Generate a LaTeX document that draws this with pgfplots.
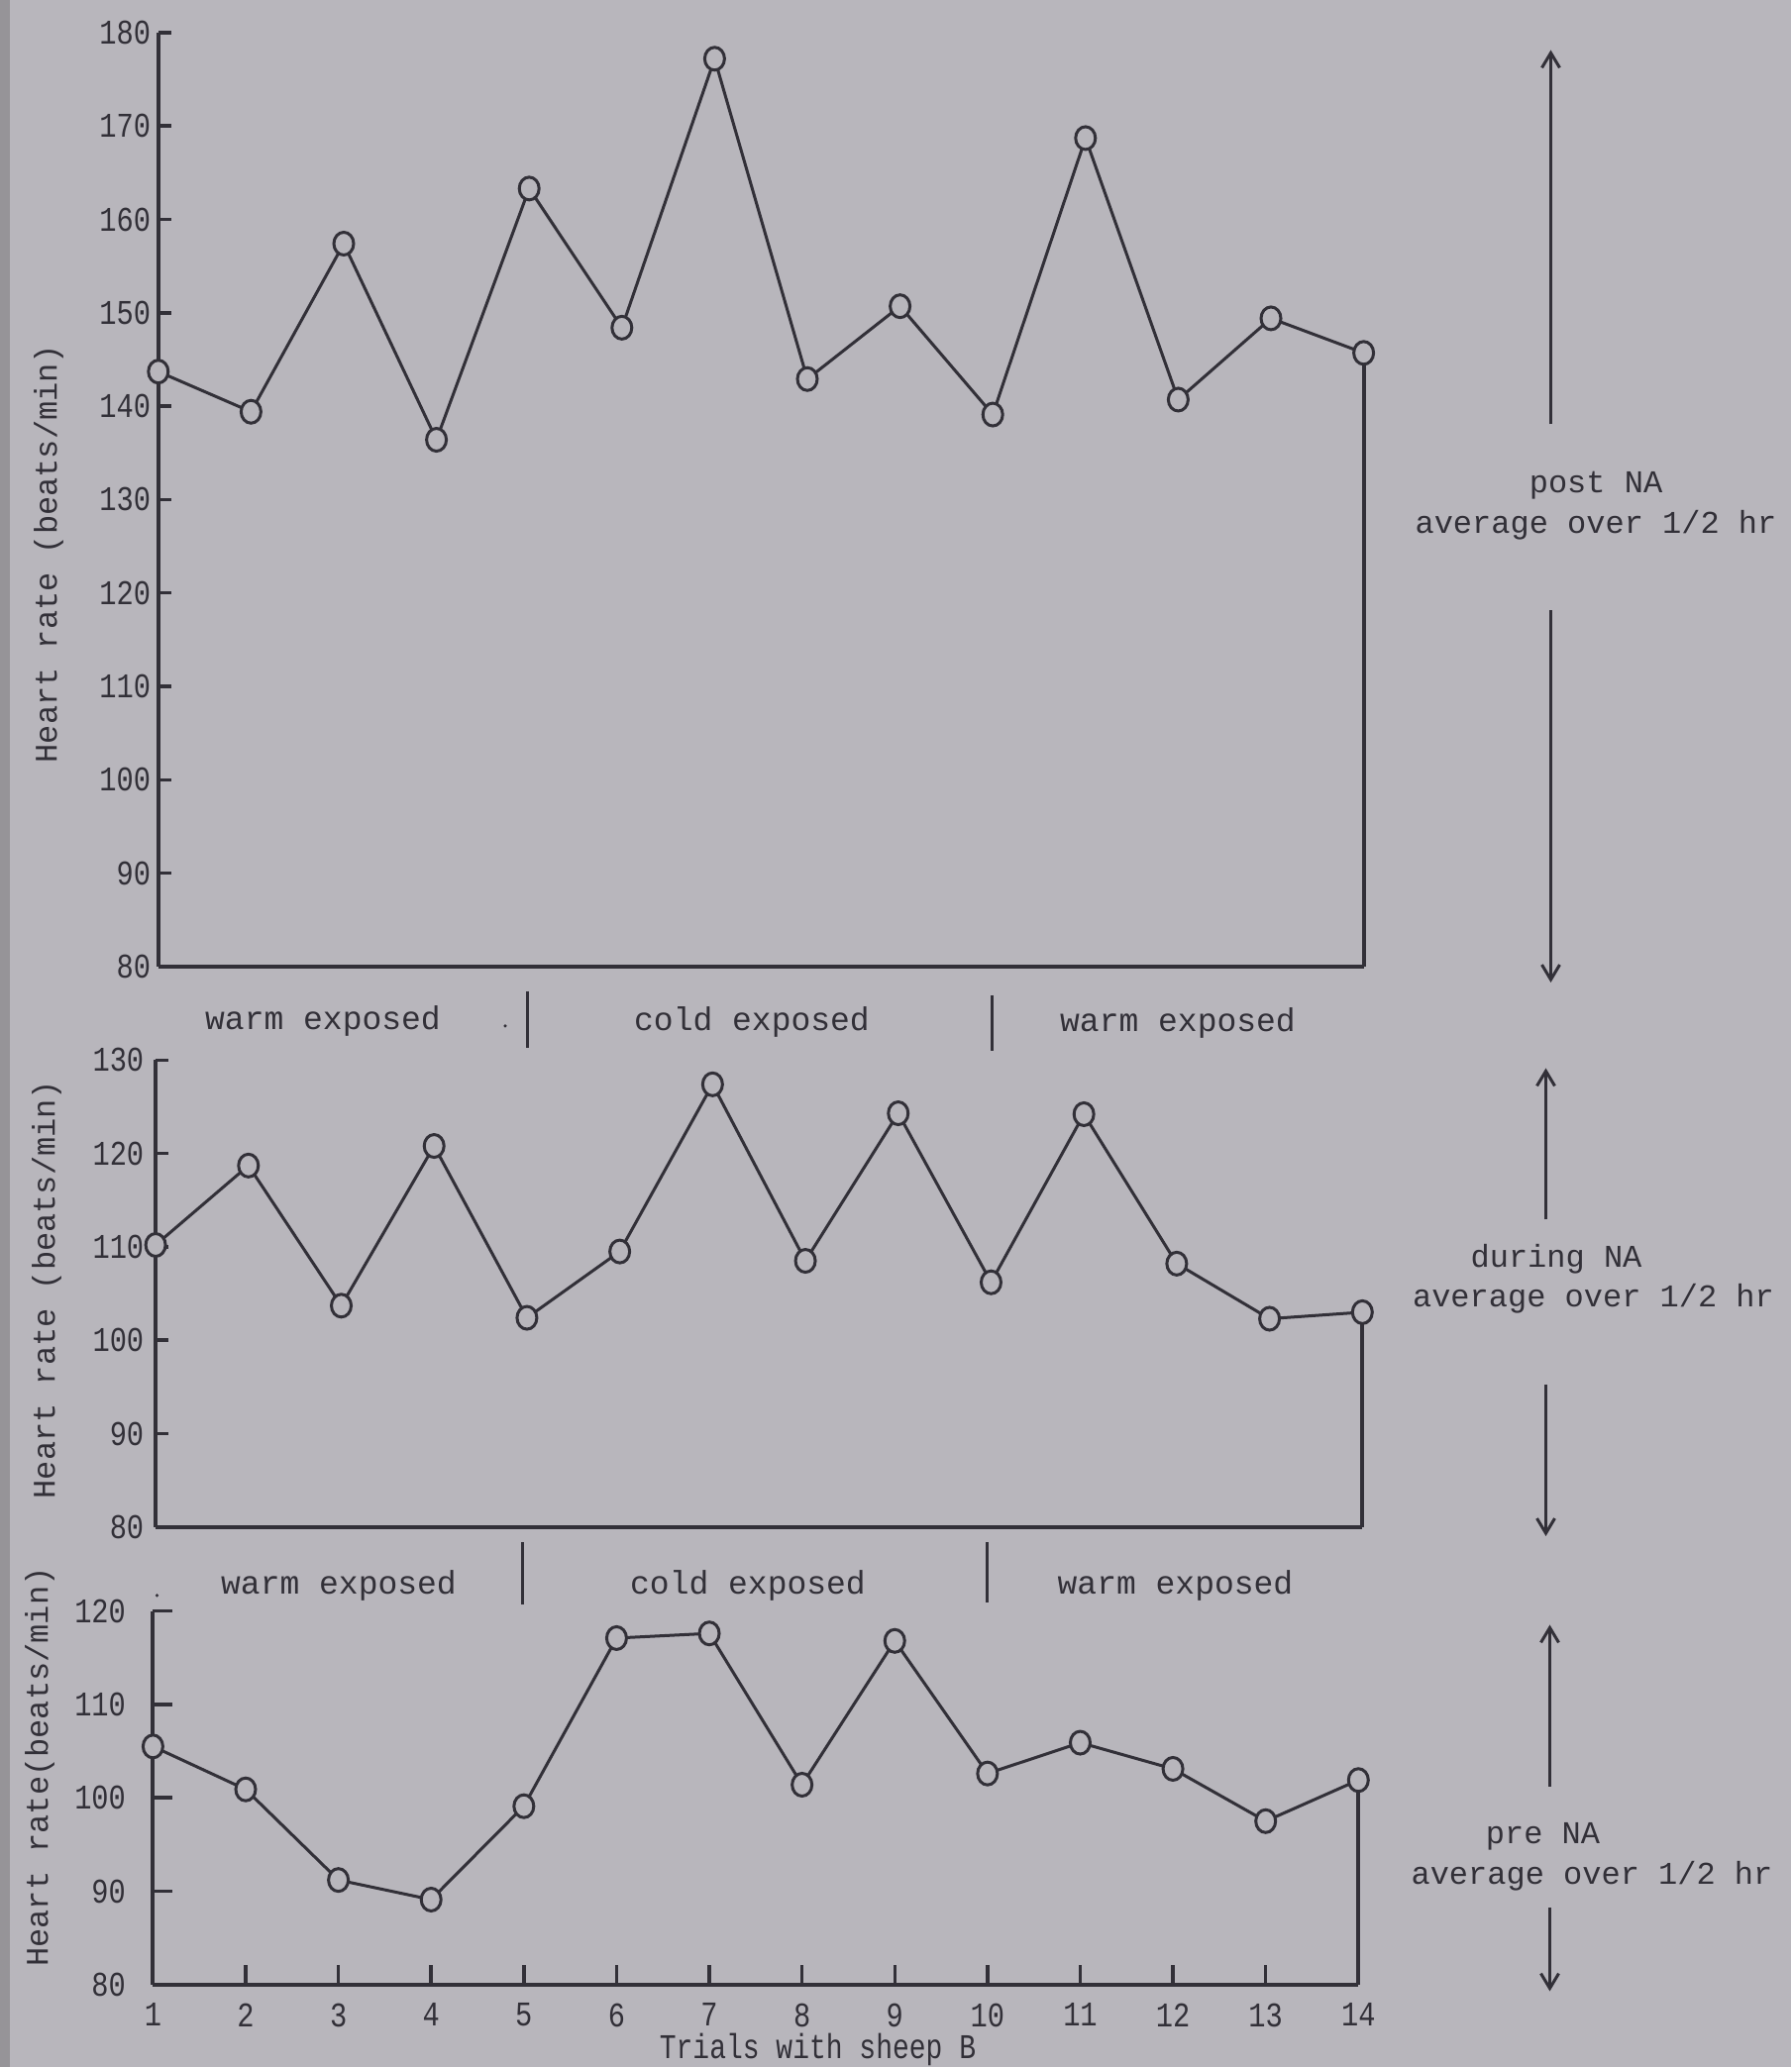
\documentclass[border=0pt]{standalone}
\usepackage{pgfplots}
\pgfplotsset{compat=1.18}
\usepackage{fontspec}
\setmainfont{Liberation Mono}
\usetikzlibrary{arrows.meta}
\definecolor{bg}{RGB}{184,182,188}
\definecolor{ink}{RGB}{50,48,56}
\definecolor{edge}{RGB}{150,148,152}

\pgfplotsset{
 panel/.style={
  scale only axis,
  axis x line=bottom, axis y line=left,
  axis line style={-, line width=0.8pt, ink},
  xmin=1, xmax=14, ymin=80,
  tick align=inside,
  major tick length=2.6pt,
  tick style={line width=0.7pt, ink},
  xtick=\empty,
  yticklabel style={font=\fontsize{7}{7}\selectfont, xscale=0.82, text=ink, inner sep=0pt},
  clip=false,
  /pgf/number format/assume math mode=true,
 },
 series/.style={ink, line width=0.6pt, mark=*, mark size=2.0pt,
   mark options={fill=bg, draw=ink, line width=0.6pt, yscale=1.15, solid}},
 drop/.style={ink, line width=0.8pt, no marks},
}

\begin{document}
\begin{tikzpicture}
% background page (scan)
\fill[bg] (0,0) rectangle (361.6pt,417.4pt);
\fill[edge] (0,0) rectangle (2pt,417.4pt);

% ---------------- top panel: post NA ----------------
\begin{axis}[panel, at={(31.96pt,222.22pt)}, anchor=south west,
  width=243.36pt, height=188.6pt, ymax=180,
  ytick={80,90,...,180},
  yticklabel style={xshift=-1.7pt}]
\addplot[drop] coordinates {(14,145.7) (14,80)};
\addplot[series] coordinates {
(1,143.7)(2,139.4)(3,157.4)(4,136.4)(5,163.3)(6,148.4)(7,177.2)
(8,142.9)(9,150.7)(10,139.1)(11,168.7)(12,140.7)(13,149.4)(14,145.7)};
\end{axis}

% ---------------- middle panel: during NA ----------------
\begin{axis}[panel, at={(31.42pt,109.04pt)}, anchor=south west,
  width=243.64pt, height=94.3pt, ymax=130,
  ytick={80,90,...,130},
  yticklabel style={xshift=-2.7pt}]
\addplot[drop] coordinates {(14,103.0) (14,80)};
\addplot[series] coordinates {
(1,110.2)(2,118.7)(3,103.7)(4,120.8)(5,102.4)(6,109.5)(7,127.4)
(8,108.5)(9,124.3)(10,106.2)(11,124.2)(12,108.2)(13,102.3)(14,103.0)};
\end{axis}

% ---------------- bottom panel: pre NA ----------------
\begin{axis}[panel, at={(30.88pt,16.64pt)}, anchor=south west,
  width=243.38pt, height=75.44pt, ymax=120,
  ytick={80,90,...,120},
  yticklabel style={xshift=-6.5pt},
  xtick={1,...,14}, major tick length=4pt,
  xticklabel style={font=\fontsize{7}{7}\selectfont, xscale=0.82, text=ink, inner sep=0pt, yshift=-3.6pt}]
\addplot[drop] coordinates {(14,101.9) (14,80)};
\addplot[series] coordinates {
(1,105.5)(2,100.9)(3,91.2)(4,89.1)(5,99.1)(6,117.1)(7,117.6)
(8,101.4)(9,116.8)(10,102.6)(11,105.9)(12,103.1)(13,97.5)(14,101.9)};
\end{axis}

% ---------------- texts ----------------
\begin{scope}[every node/.style={text=ink, inner sep=0pt}]
\tikzset{ylab/.style={rotate=90, font=\fontsize{6.4}{7}\selectfont}}
\node[ylab] at (9.8pt,305.6pt) {Heart rate (beats/min)};
\node[ylab] at (9.4pt,157pt) {Heart rate (beats/min)};
\node[ylab] at (8.0pt,60.6pt) {Heart rate(beats/min)};

\node[font=\fontsize{7}{7}\selectfont, xscale=0.8] at (165.1pt,3.6pt) {Trials with sheep B};

\tikzset{cond/.style={font=\fontsize{6.6}{7}\selectfont}}
% row between top and middle panels
\node[cond] at (65.2pt,211.3pt) {warm exposed};
\node[cond] at (151.8pt,211.0pt) {cold exposed};
\node[cond] at (237.8pt,210.8pt) {warm exposed};
\fill[ink] (102pt,210.2pt) circle (0.35pt);
\draw[ink, line width=0.6pt] (106.5pt,217.2pt) -- (106.5pt,205.7pt);
\draw[ink, line width=0.6pt] (200.2pt,216.4pt) -- (200.2pt,205.2pt);
% row between middle and bottom panels
\node[cond] at (68.4pt,97.3pt) {warm exposed};
\node[cond] at (151.0pt,97.3pt) {cold exposed};
\node[cond] at (237.3pt,97.3pt) {warm exposed};
\fill[ink] (31.7pt,95.2pt) circle (0.35pt);
\draw[ink, line width=0.6pt] (105.4pt,105.9pt) -- (105.4pt,93.3pt);
\draw[ink, line width=0.6pt] (199.2pt,105.9pt) -- (199.2pt,93.7pt);

% right-hand annotations
\tikzset{ann/.style={font=\fontsize{6.4}{7}\selectfont},
         arr/.style={ink, line width=0.6pt, -{Straight Barb[length=3pt,width=3.6pt]}}}
\draw[arr] (313.1pt,331.7pt) -- (313.1pt,407.3pt);
\node[ann] at (322.2pt,319.4pt) {post NA};
\node[ann] at (322.2pt,311.4pt) {average over 1/2 hr};
\draw[arr] (313.1pt,294.1pt) -- (313.1pt,219.0pt);

\draw[arr] (312.1pt,171.1pt) -- (312.1pt,201.7pt);
\node[ann] at (314.2pt,163.1pt) {during NA};
\node[ann] at (321.7pt,155.1pt) {average over 1/2 hr};
\draw[arr] (312.1pt,137.8pt) -- (312.1pt,107.2pt);

\draw[arr] (312.9pt,56.6pt) -- (312.9pt,89.3pt);
\node[ann] at (311.5pt,46.5pt) {pre NA};
\node[ann] at (321.4pt,38.5pt) {average over 1/2 hr};
\draw[arr] (312.9pt,32.1pt) -- (312.9pt,15.3pt);
\end{scope}

\pgfresetboundingbox
\useasboundingbox (0,0) rectangle (361.6pt,417.4pt);
\end{tikzpicture}
\end{document}
